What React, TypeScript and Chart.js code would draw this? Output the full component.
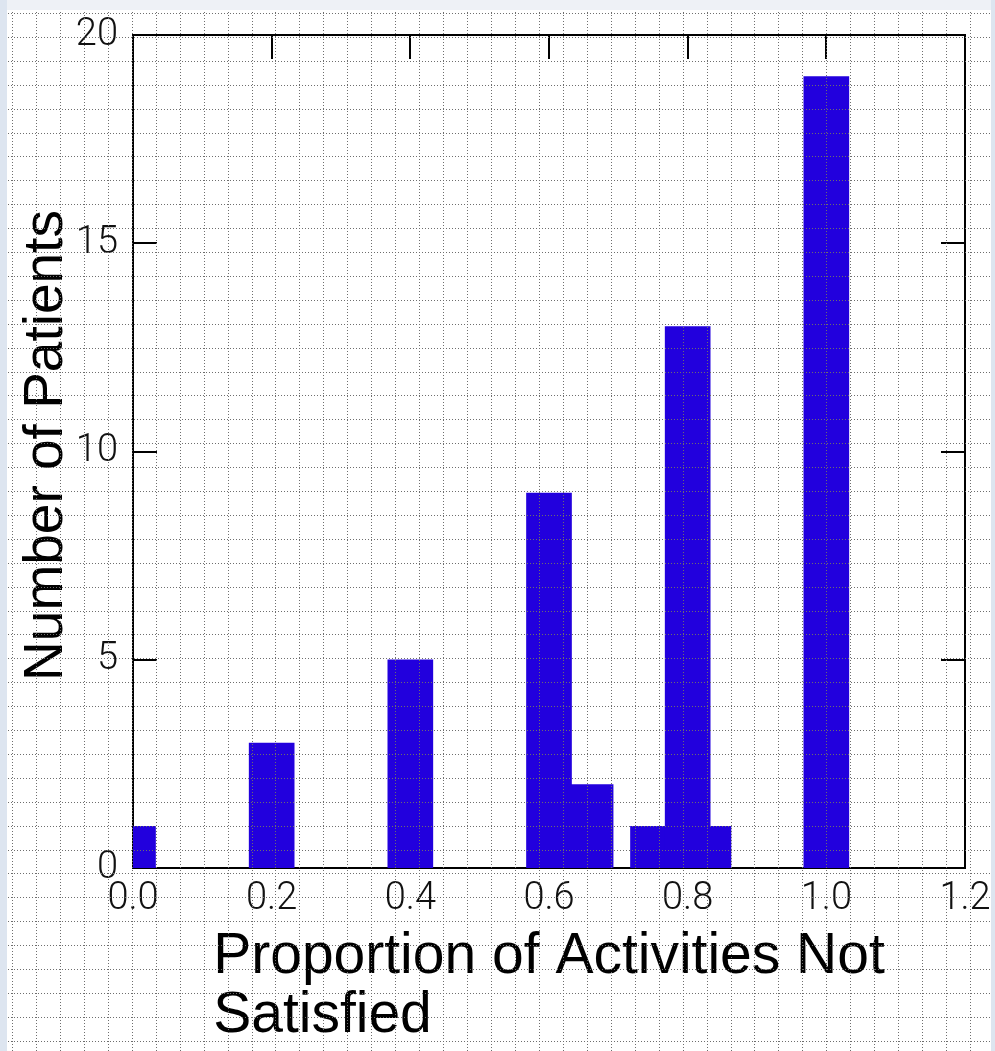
import React, { useEffect, useRef } from "react";
import { Chart, registerables } from "chart.js";

Chart.register(...registerables);

const proportions = [0, 0.2, 0.4, 0.6, 0.66, 0.75, 0.8, 0.83, 1.0];
const patientCounts = [1, 3, 5, 9, 2, 1, 13, 1, 19];
const xTicks = [0, 0.2, 0.4, 0.6, 0.8, 1.0, 1.2];
const yTicks = [0, 5, 10, 15, 20];
const xTitleLines = ["Proportion of Activities Not", "Satisfied"];
const yTitle = "Number of Patients";

const W = 995;
const H = 1051;

const decorPlugin = {
  id: "decor",
  beforeDraw(chart: any) {
    const ctx = chart.ctx;
    ctx.save();
    ctx.fillStyle = "#ffffff";
    ctx.fillRect(0, 0, W, H);
    ctx.fillStyle = "#eef1f6";
    ctx.fillRect(0, 0, W, 10);
    ctx.fillStyle = "#dde5f0";
    ctx.fillRect(0, 0, 7, H);
    ctx.fillRect(991, 0, 4, H);
    ctx.restore();
  },
  beforeDatasetsDraw(chart: any) {
    const ctx = chart.ctx;
    const a = chart.chartArea;
    const xs = chart.scales.x;
    const ys = chart.scales.y;
    ctx.save();
    ctx.strokeStyle = "#000";
    ctx.lineWidth = 2;
    ctx.strokeRect(a.left, a.top, a.right - a.left, a.bottom - a.top);
    const tl = 24;
    ctx.beginPath();
    xTicks.forEach((v) => {
      const px = Math.round(xs.getPixelForValue(v));
      ctx.moveTo(px, a.top);
      ctx.lineTo(px, a.top + tl);
      ctx.moveTo(px, a.bottom);
      ctx.lineTo(px, a.bottom - tl);
    });
    yTicks.forEach((v) => {
      const py = Math.round(ys.getPixelForValue(v));
      ctx.moveTo(a.left, py);
      ctx.lineTo(a.left + tl, py);
      ctx.moveTo(a.right, py);
      ctx.lineTo(a.right - tl, py);
    });
    ctx.stroke();

    // axis titles
    ctx.fillStyle = "#000";
    ctx.font = "57px 'Liberation Sans', Arial, sans-serif";
    ctx.textBaseline = "alphabetic";
    ctx.textAlign = "left";
    const w1 = ctx.measureText(xTitleLines[0]).width;
    const cx = (a.left + a.right) / 2;
    const x0 = cx - w1 / 2;
    ctx.fillText(xTitleLines[0], x0, 973);
    ctx.fillText(xTitleLines[1], x0, 1032);

    ctx.font = "55px 'Liberation Sans', Arial, sans-serif";
    ctx.translate(62, (a.top + a.bottom) / 2 - 6);
    ctx.rotate(-Math.PI / 2);
    ctx.textAlign = "center";
    ctx.fillText(yTitle, 0, 0);
    ctx.restore();
  },
  afterDatasetsDraw(chart: any) {
    const ctx = chart.ctx;
    ctx.save();
    ctx.strokeStyle = "#6e6e6e";
    ctx.lineWidth = 1;
    ctx.setLineDash([1, 2]);
    ctx.beginPath();
    for (let k = 0; ; k++) {
      const x = Math.round(12 + 23.95 * k) + 0.5;
      if (x > 991) break;
      ctx.moveTo(x, 12);
      ctx.lineTo(x, H);
    }
    for (let k = 0; ; k++) {
      const y = Math.round(13 + 23.9 * k) + 0.5;
      if (y > H) break;
      ctx.moveTo(8, y);
      ctx.lineTo(991, y);
    }
    ctx.stroke();
    ctx.restore();
  },
};

export default function App() {
  const ref = useRef<HTMLCanvasElement | null>(null);
  useEffect(() => {
    if (!ref.current) return;
    const tickFont = { family: "Roboto, 'Liberation Sans', sans-serif", size: 38, weight: "300" as any };
    const chart = new Chart(ref.current, {
      type: "bar",
      data: {
        datasets: [
          {
            data: proportions.map((p, i) => ({ x: p, y: patientCounts[i] })),
            backgroundColor: "#2200dd",
            borderWidth: 0,
            barThickness: 45,
          },
        ],
      },
      plugins: [decorPlugin],
      options: {
        responsive: false,
        animation: false,
        devicePixelRatio: 1,
        layout: { padding: { left: 0, top: 35, right: 30, bottom: 0 } },
        plugins: { legend: { display: false }, tooltip: { enabled: false } },
        scales: {
          x: {
            type: "linear",
            min: 0,
            max: 1.2,
            offset: false,
            grid: { display: false, drawTicks: false },
            border: { display: false },
            afterBuildTicks: (s: any) => {
              s.ticks = xTicks.map((v) => ({ value: v }));
            },
            afterFit: (s: any) => {
              s.height = H - 868;
              s.paddingLeft = 0;
              s.paddingRight = 0;
            },
            ticks: {
              color: "#111",
              font: tickFont,
              padding: 9,
              maxRotation: 0,
              autoSkip: false,
              callback: (v: any) => Number(v).toFixed(1),
            },
          },
          y: {
            type: "linear",
            min: 0,
            max: 20,
            grid: { display: false, drawTicks: false },
            border: { display: false },
            afterBuildTicks: (s: any) => {
              s.ticks = yTicks.map((v) => ({ value: v }));
            },
            afterFit: (s: any) => {
              s.width = 133;
              s.paddingTop = 0;
              s.paddingBottom = 0;
            },
            ticks: {
              color: "#111",
              font: tickFont,
              padding: 15,
              autoSkip: false,
            },
          },
        },
      },
    });
    return () => chart.destroy();
  }, []);
  return (
    <div style={{ position: "absolute", left: 0, top: 0, width: W, height: H }}>
      <canvas ref={ref} width={W} height={H} style={{ display: "block", width: W, height: H }} />
    </div>
  );
}
